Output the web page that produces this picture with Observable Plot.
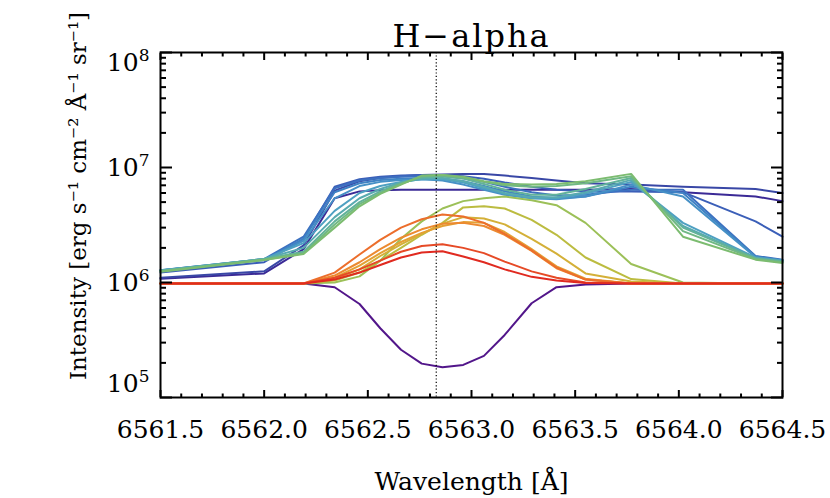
<!DOCTYPE html>
<html>
<head>
<meta charset="utf-8">
<script src="https://cdn.jsdelivr.net/npm/d3@7"></script>
<script src="https://cdn.jsdelivr.net/npm/@observablehq/plot@0.6"></script>
<style>
  body { margin: 0; background: #fff; }
</style>
</head>
<body>
<div id="chart"></div>
<script>
// ---- text ----
const titleText = "H\u2212alpha";
const xLabelText = "Wavelength [Å]";
const yLabelText = "Intensity [erg s⁻¹ cm⁻² Å⁻¹ sr⁻¹]";

// ---- axes ----
const xMajorTicks = [6561.5, 6562.0, 6562.5, 6563.0, 6563.5, 6564.0, 6564.5];
const yMajorTicks = [1e5, 1e6, 1e7, 1e8];
const yTickBase = ["10", "10", "10", "10"];
const yTickExponent = ["5", "6", "7", "8"];
const lineCenter = 6562.83;

// ---- wavelength grid [Å] ----
const wavelength = [6561.5, 6562.0, 6562.19, 6562.34, 6562.46, 6562.56, 6562.66, 6562.76, 6562.86,
  6562.96, 6563.06, 6563.16, 6563.29, 6563.41, 6563.55, 6563.77, 6564.02, 6564.37, 6564.5];

// ---- intensity profiles (one per time step) ----
const s00 = [9.8e5, 9.8e5, 9.8e5, 9.1e5, 6.5e5, 4.0e5, 2.6e5, 1.97e5, 1.83e5, 1.92e5, 2.3e5, 3.5e5, 6.6e5, 9.1e5, 9.6e5, 9.8e5, 9.8e5, 9.8e5, 9.8e5];
const s01 = [1.08e6, 1.2e6, 1.95e6, 5.4e6, 6.2e6, 6.35e6, 6.4e6, 6.4e6, 6.4e6, 6.4e6, 6.4e6, 6.4e6, 6.4e6, 6.4e6, 6.4e6, 6.5e6, 6.1e6, 5.6e6, 5.1e6];
const s02 = [1.1e6, 1.25e6, 2.1e6, 6.3e6, 7.6e6, 8.1e6, 8.4e6, 8.6e6, 8.7e6, 8.8e6, 8.8e6, 8.5e6, 8.1e6, 7.7e6, 7.3e6, 7.1e6, 6.8e6, 6.5e6, 6.0e6];
const s03 = [1.22e6, 1.5e6, 2.4e6, 6.8e6, 7.9e6, 8.3e6, 8.5e6, 8.6e6, 8.6e6, 8.4e6, 8.0e6, 7.4e6, 6.8e6, 6.4e6, 6.2e6, 6.2e6, 6.1e6, 3.4e6, 2.5e6];
const s04 = [1.28e6, 1.6e6, 2.5e6, 6.6e6, 7.7e6, 8.1e6, 8.3e6, 8.4e6, 8.4e6, 8.1e6, 7.5e6, 6.8e6, 6.1e6, 5.7e6, 5.8e6, 6.4e6, 6.4e6, 1.7e6, 1.58e6];
const s05 = [1.27e6, 1.58e6, 2.4e6, 6.1e6, 7.3e6, 7.8e6, 8.0e6, 8.1e6, 8.0e6, 7.6e6, 6.9e6, 6.2e6, 5.6e6, 5.4e6, 5.6e6, 6.8e6, 6.0e6, 1.68e6, 1.56e6];
const s06 = [1.27e6, 1.57e6, 2.3e6, 5.4e6, 6.9e6, 7.5e6, 7.8e6, 7.9e6, 7.7e6, 7.1e6, 6.4e6, 5.8e6, 5.4e6, 5.3e6, 5.6e6, 7.1e6, 5.6e6, 1.66e6, 1.55e6];
const s07 = [1.28e6, 1.6e6, 2.2e6, 4.2e6, 6.0e6, 6.9e6, 7.5e6, 7.9e6, 7.9e6, 7.4e6, 6.6e6, 5.9e6, 5.4e6, 5.4e6, 5.9e6, 7.5e6, 3.3e6, 1.65e6, 1.55e6];
const s08 = [1.27e6, 1.6e6, 2.0e6, 3.7e6, 5.4e6, 6.5e6, 7.4e6, 8.0e6, 8.1e6, 7.6e6, 6.8e6, 6.0e6, 5.5e6, 5.5e6, 6.1e6, 7.8e6, 3.1e6, 1.63e6, 1.53e6];
const s09 = [1.26e6, 1.6e6, 1.85e6, 3.4e6, 5.0e6, 6.2e6, 7.3e6, 8.2e6, 8.4e6, 8.0e6, 7.2e6, 6.4e6, 5.8e6, 5.8e6, 6.5e6, 8.1e6, 3.0e6, 1.62e6, 1.52e6];
const s10 = [1.25e6, 1.58e6, 1.8e6, 3.2e6, 4.8e6, 6.0e6, 7.2e6, 8.4e6, 8.6e6, 8.2e6, 7.5e6, 7.0e6, 6.8e6, 6.9e6, 7.3e6, 8.4e6, 2.8e6, 1.6e6, 1.5e6];
const s11 = [1.24e6, 1.57e6, 1.77e6, 3.0e6, 4.6e6, 5.9e6, 7.1e6, 8.5e6, 8.6e6, 8.3e6, 7.6e6, 7.2e6, 7.1e6, 7.2e6, 7.6e6, 8.8e6, 2.5e6, 1.58e6, 1.48e6];
const s12 = [9.8e5, 9.8e5, 9.8e5, 1.0e6, 1.13e6, 1.55e6, 2.4e6, 3.4e6, 4.4e6, 5.1e6, 5.4e6, 5.6e6, 5.2e6, 4.7e6, 3.3e6, 1.45e6, 1.0e6, 9.8e5, 9.8e5];
const s13 = [9.8e5, 9.8e5, 9.8e5, 1.04e6, 1.22e6, 1.55e6, 2.0e6, 2.6e6, 3.3e6, 4.5e6, 4.6e6, 4.4e6, 3.5e6, 2.6e6, 1.65e6, 1.07e6, 9.8e5, 9.8e5, 9.8e5];
const s14 = [9.8e5, 9.8e5, 9.8e5, 1.07e6, 1.3e6, 1.7e6, 2.15e6, 2.65e6, 3.25e6, 3.7e6, 3.6e6, 3.2e6, 2.4e6, 1.78e6, 1.2e6, 1.02e6, 9.8e5, 9.8e5, 9.8e5];
const s15 = [9.8e5, 9.8e5, 9.8e5, 1.1e6, 1.4e6, 1.8e6, 2.25e6, 2.7e6, 3.1e6, 3.35e6, 3.3e6, 2.75e6, 1.95e6, 1.38e6, 1.08e6, 9.8e5, 9.8e5, 9.8e5, 9.8e5];
const s16 = [9.8e5, 9.8e5, 9.8e5, 1.15e6, 1.5e6, 1.95e6, 2.45e6, 2.9e6, 3.25e6, 3.3e6, 3.1e6, 2.6e6, 1.88e6, 1.33e6, 1.06e6, 9.8e5, 9.8e5, 9.8e5, 9.8e5];
const s17 = [9.8e5, 9.8e5, 9.8e5, 1.22e6, 1.75e6, 2.35e6, 3.0e6, 3.55e6, 3.9e6, 3.75e6, 3.3e6, 2.65e6, 1.9e6, 1.35e6, 1.06e6, 9.8e5, 9.8e5, 9.8e5, 9.8e5];
const s18 = [9.8e5, 9.8e5, 9.8e5, 1.1e6, 1.3e6, 1.55e6, 1.85e6, 2.08e6, 2.15e6, 2.0e6, 1.8e6, 1.52e6, 1.25e6, 1.1e6, 1.0e6, 9.8e5, 9.8e5, 9.8e5, 9.8e5];
const s19 = [9.8e5, 9.8e5, 9.8e5, 1.06e6, 1.22e6, 1.42e6, 1.65e6, 1.82e6, 1.87e6, 1.68e6, 1.5e6, 1.3e6, 1.12e6, 1.04e6, 9.9e5, 9.8e5, 9.8e5, 9.8e5, 9.8e5];

const seriesNames = ["t00","t01","t02","t03","t04","t05","t06","t07","t08","t09",
                     "t10","t11","t12","t13","t14","t15","t16","t17","t18","t19"];
const seriesValues = [s00,s01,s02,s03,s04,s05,s06,s07,s08,s09,s10,s11,s12,s13,s14,s15,s16,s17,s18,s19];

// ---- styles ----
const palette = ["#52168a","#3b2a96","#3947a6","#3b5fb8","#3c70c0","#3f82c4","#4690c6","#4ea0c2",
                 "#58aab0","#62b29a","#70b884","#7cbc70","#9cc058","#bcbc40","#d4b038","#e4a034",
                 "#ec8a30","#ec6e2c","#e64a26","#e02a20"];

const rows = seriesValues.flatMap((vals, i) =>
  vals.map((v, j) => ({series: seriesNames[i], wavelength: wavelength[j], intensity: v})));

const xMinorTicks = d3.range(31).map(i => +(6561.5 + i * 0.1).toFixed(1))
  .filter(v => !xMajorTicks.some(m => Math.abs(m - v) < 1e-6));
const yMinorTicks = [1e5, 1e6, 1e7].flatMap(b => [2,3,4,5,6,7,8,9].map(k => k * b));
const yLabelRows = yMajorTicks.map((v, i) => ({v, label: yTickBase[i] + "^" + yTickExponent[i]}));

function xTickMarks(values, len) {
  return [
    Plot.axisX(values, {anchor: "bottom", tickSize: len, dy: -len, fill: "none", strokeWidth: 2, label: null}),
    Plot.axisX(values, {anchor: "top", tickSize: len, dy: len, fill: "none", strokeWidth: 2, label: null})
  ];
}
function yTickMarks(values, len) {
  return [
    Plot.axisY(values, {anchor: "left", tickSize: len, dx: len, fill: "none", strokeWidth: 2, label: null}),
    Plot.axisY(values, {anchor: "right", tickSize: len, dx: -len, fill: "none", strokeWidth: 2, label: null})
  ];
}

const yLabelOpts = {y: "v", text: "label", frameAnchor: "left", textAnchor: "end", dx: -11, fontSize: 25};

const chart = Plot.plot({
  width: 830,
  height: 498,
  marginLeft: 160,
  marginRight: 48,
  marginTop: 52,
  marginBottom: 101,
  style: {fontFamily: "'DejaVu Serif', serif", fontSize: "25px", background: "white", color: "black"},
  x: {domain: [6561.5, 6564.5]},
  y: {type: "log", domain: [1e5, 1e8]},
  color: {domain: seriesNames, range: palette},
  marks: [
    Plot.line(rows, {x: "wavelength", y: "intensity", z: "series", stroke: "series",
                     strokeWidth: 2, strokeLinejoin: "round"}),
    Plot.ruleX([lineCenter], {stroke: "black", strokeWidth: 1.2, strokeDasharray: "1.2,2.2"}),
    ...xTickMarks(xMajorTicks, 7),
    ...xTickMarks(xMinorTicks, 3.5),
    ...yTickMarks(yMajorTicks, 12),
    ...yTickMarks(yMinorTicks, 6),
    Plot.frame({stroke: "black", strokeWidth: 2}),
    Plot.axisX(xMajorTicks, {anchor: "bottom", tickSize: 0, tickPadding: 23,
                             tickFormat: d3.format(".1f"), fontSize: 25, label: null}),
    Plot.text(yLabelRows, {...yLabelOpts, filter: d => d.v > 1e5 && d.v < 1e8}),
    Plot.text(yLabelRows, {...yLabelOpts, filter: d => d.v === 1e8, dy: 10}),
    Plot.text(yLabelRows, {...yLabelOpts, filter: d => d.v === 1e5, dy: -14}),
    Plot.text([xLabelText], {text: d => d, frameAnchor: "bottom", textAnchor: "middle", dy: 92, fontSize: 25}),
    Plot.text([yLabelText], {text: d => d, frameAnchor: "left", textAnchor: "middle", rotate: -90,
                             dx: -82, dy: -29, fontSize: 23}),
    Plot.text([titleText], {text: d => d, frameAnchor: "top", dy: -28, fontSize: 32})
  ]
});

// turn "10^k" into 10 with a real superscript; space out the title
d3.select(chart).selectAll("text").each(function () {
  const s = this.textContent;
  if (s.includes("^")) {
    const [base, exp] = s.split("^");
    const t = d3.select(this);
    t.text(base);
    t.append("tspan").attr("dy", "-0.55em").attr("font-size", "0.68em").text(exp);
  } else if (s === titleText) {
    this.style.letterSpacing = "2px";
  }
});

document.getElementById("chart").appendChild(chart);
</script>
</body>
</html>
